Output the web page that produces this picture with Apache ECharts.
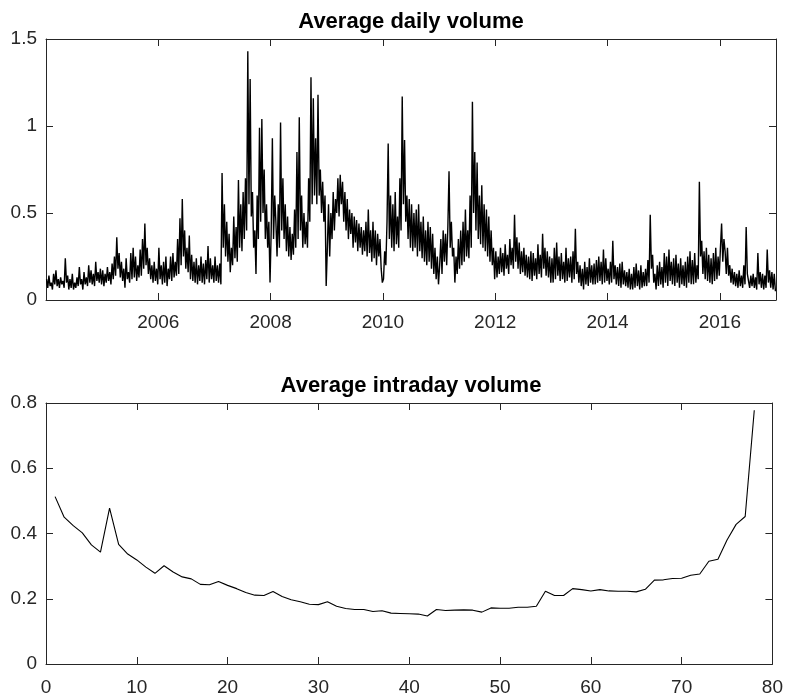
<!DOCTYPE html>
<html>
<head>
<meta charset="utf-8">
<script src="https://cdn.jsdelivr.net/npm/echarts@6/dist/echarts.min.js"></script>
<style>
  html, body { margin: 0; padding: 0; background: #fff; }
  #chart { width: 786px; height: 698px; }
</style>
</head>
<body>
<div id="chart"></div>
<script>
// weekly-ish readings (4 per month) of the daily volume, one array per year
const vol2004 = [
  0.12, 0.07, 0.14, 0.08,  0.10, 0.06, 0.15, 0.09,  0.17, 0.08, 0.12, 0.07,
  0.13, 0.09, 0.11, 0.07,  0.24, 0.10, 0.14, 0.06,  0.12, 0.07, 0.15, 0.06,
  0.10, 0.07, 0.13, 0.08,  0.19, 0.09, 0.12, 0.06,  0.16, 0.09, 0.13, 0.08,
  0.20, 0.10, 0.17, 0.09,  0.15, 0.08, 0.22, 0.11,  0.16, 0.10, 0.18, 0.09
];
const vol2005 = [
  0.17, 0.08, 0.15, 0.10,  0.19, 0.11, 0.16, 0.09,  0.21, 0.12, 0.25, 0.14,
  0.36, 0.18, 0.27, 0.13,  0.22, 0.11, 0.18, 0.07,  0.24, 0.12, 0.16, 0.10,
  0.27, 0.12, 0.30, 0.13,  0.25, 0.11, 0.20, 0.13,  0.29, 0.14, 0.35, 0.18,
  0.44, 0.20, 0.30, 0.15,  0.24, 0.12, 0.20, 0.10,  0.22, 0.11, 0.18, 0.09
];
const vol2006 = [
  0.30, 0.12, 0.20, 0.09,  0.22, 0.10, 0.25, 0.08,  0.18, 0.12, 0.25, 0.11,
  0.27, 0.13, 0.22, 0.14,  0.35, 0.15, 0.47, 0.20,  0.58, 0.25, 0.40, 0.18,
  0.30, 0.16, 0.37, 0.12,  0.26, 0.11, 0.22, 0.10,  0.24, 0.09, 0.20, 0.11,
  0.25, 0.10, 0.21, 0.09,  0.23, 0.12, 0.31, 0.10,  0.24, 0.12, 0.20, 0.10
];
const vol2007 = [
  0.25, 0.11, 0.20, 0.10,  0.21, 0.09, 0.73, 0.30,  0.55, 0.25, 0.45, 0.22,
  0.38, 0.16, 0.30, 0.20,  0.48, 0.24, 0.42, 0.22,  0.69, 0.30, 0.55, 0.28,
  0.62, 0.35, 0.70, 0.40,  1.43, 0.55, 1.27, 0.48,  0.62, 0.30, 0.40, 0.15,
  0.60, 0.35, 0.99, 0.45,  1.04, 0.50, 0.75, 0.35,  0.55, 0.30, 0.45, 0.10
];
const vol2008 = [
  0.40, 0.93, 0.35, 0.60,  0.45, 0.25, 0.55, 0.30,  1.02, 0.40, 0.70, 0.35,
  0.55, 0.28, 0.48, 0.25,  0.42, 0.23, 0.38, 0.26,  0.52, 0.30, 0.85, 0.35,
  1.05, 0.40, 0.60, 0.30,  0.50, 0.32, 0.45, 0.30,  0.70, 0.45, 1.28, 0.55,
  1.16, 0.60, 0.93, 0.55,  1.18, 0.60, 0.75, 0.50,  0.68, 0.45, 0.60, 0.08
];
const vol2009 = [
  0.30, 0.55, 0.25, 0.50,  0.35, 0.62, 0.40, 0.58,  0.50, 0.70, 0.48, 0.72,
  0.55, 0.68, 0.45, 0.62,  0.40, 0.58, 0.35, 0.52,  0.38, 0.50, 0.30, 0.48,
  0.33, 0.46, 0.28, 0.44,  0.30, 0.42, 0.26, 0.40,  0.28, 0.45, 0.25, 0.52,
  0.27, 0.40, 0.22, 0.45,  0.24, 0.40, 0.20, 0.38,  0.25, 0.35, 0.18, 0.10
];
const vol2010 = [
  0.12, 0.28, 0.20, 0.45,  0.90, 0.35, 0.60, 0.30,  0.55, 0.28, 0.62, 0.32,
  0.48, 0.30, 0.70, 0.40,  1.17, 0.55, 0.92, 0.45,  0.60, 0.35, 0.58, 0.30,
  0.55, 0.28, 0.50, 0.30,  0.52, 0.25, 0.55, 0.28,  0.45, 0.24, 0.48, 0.22,
  0.40, 0.20, 0.45, 0.22,  0.42, 0.18, 0.38, 0.15,  0.30, 0.12, 0.25, 0.09
];
const vol2011 = [
  0.20, 0.35, 0.15, 0.40,  0.22, 0.38, 0.20, 0.42,  0.74, 0.30, 0.45, 0.25,
  0.30, 0.10, 0.25, 0.15,  0.35, 0.18, 0.40, 0.20,  0.45, 0.22, 0.52, 0.25,
  0.40, 0.24, 0.60, 0.30,  1.14, 0.50, 0.85, 0.40,  0.79, 0.35, 0.60, 0.32,
  0.66, 0.30, 0.55, 0.28,  0.52, 0.25, 0.48, 0.22,  0.40, 0.20, 0.30, 0.12
];
const vol2012 = [
  0.28, 0.13, 0.25, 0.15,  0.30, 0.16, 0.27, 0.14,  0.32, 0.18, 0.26, 0.15,
  0.35, 0.20, 0.30, 0.18,  0.49, 0.22, 0.36, 0.18,  0.33, 0.15, 0.28, 0.16,
  0.30, 0.14, 0.26, 0.13,  0.25, 0.12, 0.28, 0.11,  0.27, 0.14, 0.24, 0.12,
  0.32, 0.15, 0.26, 0.13,  0.38, 0.18, 0.30, 0.14,  0.28, 0.13, 0.25, 0.10
];
const vol2013 = [
  0.24, 0.10, 0.30, 0.12,  0.33, 0.14, 0.25, 0.11,  0.27, 0.12, 0.22, 0.10,
  0.30, 0.11, 0.24, 0.13,  0.25, 0.10, 0.28, 0.12,  0.41, 0.15, 0.22, 0.10,
  0.20, 0.08, 0.18, 0.06,  0.22, 0.09, 0.19, 0.08,  0.24, 0.10, 0.20, 0.09,
  0.21, 0.09, 0.23, 0.10,  0.25, 0.11, 0.22, 0.09,  0.29, 0.10, 0.24, 0.11
];
const vol2014 = [
  0.18, 0.09, 0.22, 0.10,  0.34, 0.12, 0.20, 0.09,  0.19, 0.08, 0.21, 0.07,
  0.22, 0.09, 0.17, 0.08,  0.16, 0.07, 0.18, 0.06,  0.15, 0.06, 0.19, 0.07,
  0.21, 0.08, 0.17, 0.06,  0.20, 0.07, 0.16, 0.08,  0.18, 0.08, 0.23, 0.10,
  0.49, 0.18, 0.26, 0.10,  0.15, 0.06, 0.20, 0.08,  0.22, 0.09, 0.19, 0.07
];
const vol2015 = [
  0.27, 0.10, 0.25, 0.08,  0.29, 0.11, 0.22, 0.09,  0.24, 0.08, 0.26, 0.10,
  0.21, 0.07, 0.24, 0.09,  0.20, 0.08, 0.22, 0.07,  0.25, 0.10, 0.28, 0.09,
  0.23, 0.09, 0.27, 0.10,  0.20, 0.12, 0.68, 0.25,  0.34, 0.15, 0.28, 0.12,
  0.30, 0.11, 0.26, 0.10,  0.24, 0.09, 0.27, 0.11,  0.30, 0.12, 0.25, 0.14
];
const vol2016 = [
  0.30, 0.44, 0.22, 0.35,  0.28, 0.15, 0.30, 0.14,  0.20, 0.10, 0.18, 0.09,
  0.16, 0.08, 0.15, 0.07,  0.17, 0.08, 0.14, 0.07,  0.20, 0.09, 0.42, 0.15,
  0.16, 0.07, 0.14, 0.08,  0.15, 0.07, 0.13, 0.06,  0.27, 0.09, 0.16, 0.07,
  0.15, 0.06, 0.14, 0.07,  0.29, 0.10, 0.17, 0.07,  0.16, 0.06, 0.15, 0.05
];

const dailyYears = [2004, 2005, 2006, 2007, 2008, 2009, 2010, 2011, 2012, 2013, 2014, 2015, 2016];
const dailyByYear = [vol2004, vol2005, vol2006, vol2007, vol2008, vol2009, vol2010, vol2011, vol2012, vol2013, vol2014, vol2015, vol2016];

// 78 intraday bins
const intradayVol = [
  0.513, 0.450, 0.424, 0.402, 0.365, 0.343, 0.478, 0.367, 0.337, 0.319,
  0.297, 0.278, 0.301, 0.282, 0.267, 0.261, 0.244, 0.243, 0.253, 0.241,
  0.231, 0.219, 0.211, 0.210, 0.222, 0.207, 0.197, 0.191, 0.183, 0.182,
  0.191, 0.177, 0.170, 0.167, 0.167, 0.161, 0.163, 0.156, 0.155, 0.154,
  0.153, 0.147, 0.167, 0.164, 0.165, 0.166, 0.165, 0.159, 0.172, 0.171,
  0.171, 0.174, 0.174, 0.177, 0.223, 0.210, 0.210, 0.231, 0.228, 0.224,
  0.228, 0.224, 0.223, 0.223, 0.221, 0.229, 0.257, 0.258, 0.262, 0.263,
  0.272, 0.276, 0.315, 0.321, 0.380, 0.428, 0.452, 0.778
];

const axisColor = '#262626';
const fontFamily = '"Liberation Sans", Arial, Helvetica, sans-serif';

const dailyData = [];
dailyYears.forEach((year, k) => {
  const vals = dailyByYear[k];
  vals.forEach((v, i) => {
    dailyData.push([year + (i + 0.5) / vals.length, v]);
  });
});
const intradayData = intradayVol.map((v, i) => [i + 1, v]);

const axisBase = (extra) => Object.assign({
  type: 'value',
  axisLine: { show: true, onZero: false, lineStyle: { color: axisColor, width: 1 } },
  axisTick: { show: true, inside: true, length: 7, lineStyle: { color: axisColor } },
  splitLine: { show: false },
  axisLabel: { color: axisColor, fontSize: 19, fontFamily },
}, extra);

const noLabels = { show: false };
const titleStyle = { fontSize: 22, fontWeight: 'bold', color: '#000', fontFamily };

const option = {
  animation: false,
  backgroundColor: '#fff',
  title: [
    { text: 'Average daily volume', left: 411, top: 11, textAlign: 'center', padding: 0, textStyle: titleStyle },
    { text: 'Average intraday volume', left: 411, top: 375, textAlign: 'center', padding: 0, textStyle: titleStyle },
  ],
  grid: [
    { left: 46, right: 10, top: 39, height: 261 },
    { left: 46, right: 10, top: 403, height: 261 },
  ],
  xAxis: [
    axisBase({
      gridIndex: 0, position: 'bottom', min: 2004, max: 2017, interval: 2,
      axisLabel: {
        color: axisColor, fontSize: 19, fontFamily, margin: 13,
        showMinLabel: false, showMaxLabel: false,
        formatter: (v) => (v === 2004 || v === 2017 ? '' : String(v)),
      },
    }),
    axisBase({ gridIndex: 0, position: 'top', min: 2004, max: 2017, interval: 2, axisLabel: noLabels }),
    axisBase({
      gridIndex: 1, position: 'bottom', min: 0, max: 80, interval: 10,
      axisLabel: { color: axisColor, fontSize: 19, fontFamily, margin: 14 },
    }),
    axisBase({ gridIndex: 1, position: 'top', min: 0, max: 80, interval: 10, axisLabel: noLabels }),
  ],
  yAxis: [
    axisBase({
      gridIndex: 0, position: 'left', min: 0, max: 1.5, interval: 0.5,
      axisLabel: { color: axisColor, fontSize: 19, fontFamily, margin: 9 },
    }),
    axisBase({ gridIndex: 0, position: 'right', min: 0, max: 1.5, interval: 0.5, axisLabel: noLabels }),
    axisBase({
      gridIndex: 1, position: 'left', min: 0, max: 0.8, interval: 0.2,
      axisLabel: { color: axisColor, fontSize: 19, fontFamily, margin: 9 },
    }),
    axisBase({ gridIndex: 1, position: 'right', min: 0, max: 0.8, interval: 0.2, axisLabel: noLabels }),
  ],
  series: [
    {
      type: 'line',
      xAxisIndex: 0, yAxisIndex: 0,
      data: dailyData,
      showSymbol: false,
      lineStyle: { color: '#000', width: 1.4 },
    },
    {
      type: 'line',
      xAxisIndex: 2, yAxisIndex: 2,
      data: intradayData,
      showSymbol: false,
      lineStyle: { color: '#000', width: 1.1 },
    },
  ],
};

const myChart = echarts.init(document.getElementById('chart'));
myChart.setOption(option);
</script>
</body>
</html>
